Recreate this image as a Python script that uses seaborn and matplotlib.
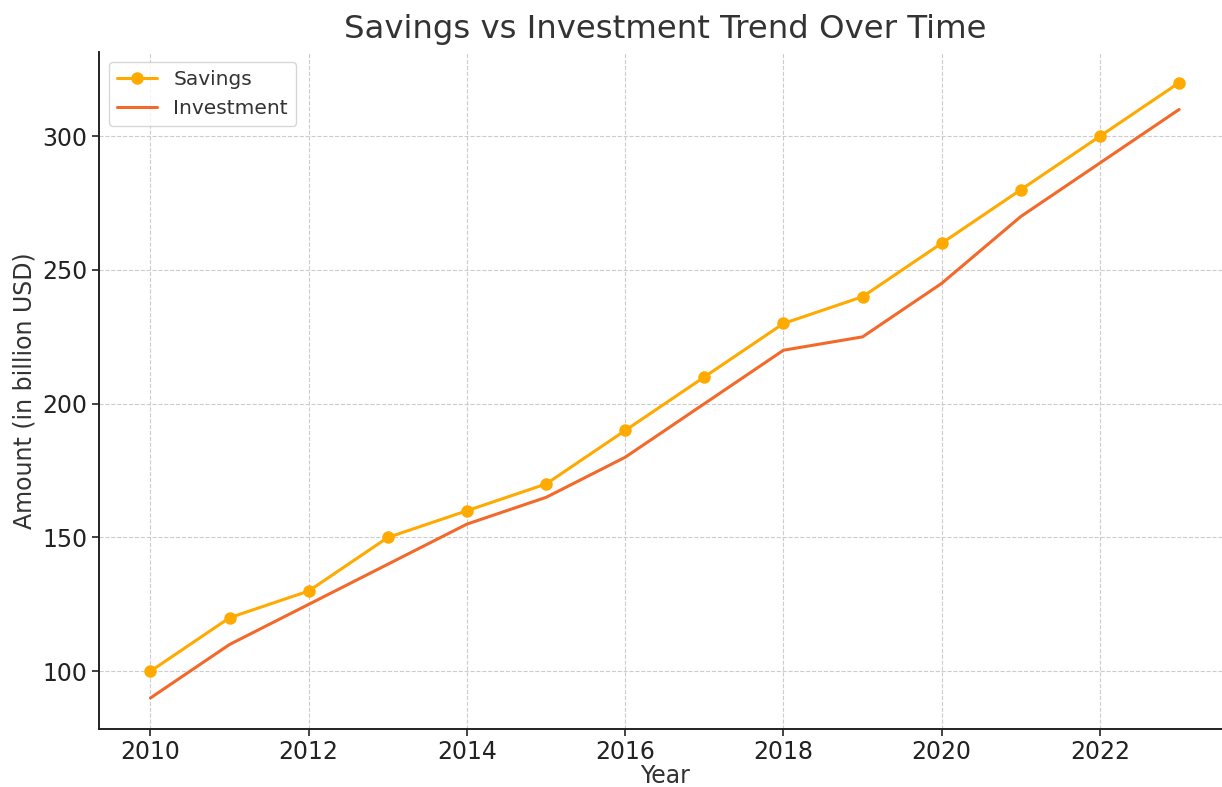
import pandas as pd
import seaborn as sns
import matplotlib.pyplot as plt

# data
years = list(range(2010, 2024))
savings = [100, 120, 130, 150, 160, 170, 190, 210, 230, 240, 260, 280, 300, 320]
investment = [90, 110, 125, 140, 155, 165, 180, 200, 220, 225, 245, 270, 290, 310]

df = pd.DataFrame({"Year": years, "Savings": savings, "Investment": investment})

sns.set_style("whitegrid", {"grid.linestyle": "--", "grid.color": "#cccccc"})
plt.rcParams['font.family'] = ['DejaVu Sans']
plt.rcParams['text.color'] = '#333333'
plt.rcParams['axes.labelcolor'] = '#333333'

fig, ax = plt.subplots(figsize=(12.22, 7.87), dpi=100)

sns.lineplot(data=df, x="Year", y="Savings", marker="o", markersize=9,
             markeredgewidth=0, color="#FFAA00", linewidth=2.2, label="Savings", ax=ax)
sns.lineplot(data=df, x="Year", y="Investment", color="#F2692A",
             linewidth=2.2, label="Investment", ax=ax)

ax.set_title("Savings vs Investment Trend Over Time", fontsize=23.3, pad=10)
ax.set_xlabel("Year", fontsize=17, labelpad=0)
ax.set_ylabel("Amount (in billion USD)", fontsize=17)
ax.tick_params(axis="both", labelsize=17, colors="#222222", length=5, width=1.2, bottom=True, left=True)
ax.tick_params(axis="x", pad=3)
ax.set_xticks([2010, 2012, 2014, 2016, 2018, 2020, 2022])

for side in ["top", "right"]:
    ax.spines[side].set_visible(False)
for side in ["left", "bottom"]:
    ax.spines[side].set_color("#222222")
    ax.spines[side].set_linewidth(1.4)

ax.legend(loc="upper left", fontsize=14.5, frameon=True)

plt.subplots_adjust(left=0.081, right=1.007, bottom=0.074, top=0.934)
plt.savefig("out.png", dpi=100)
